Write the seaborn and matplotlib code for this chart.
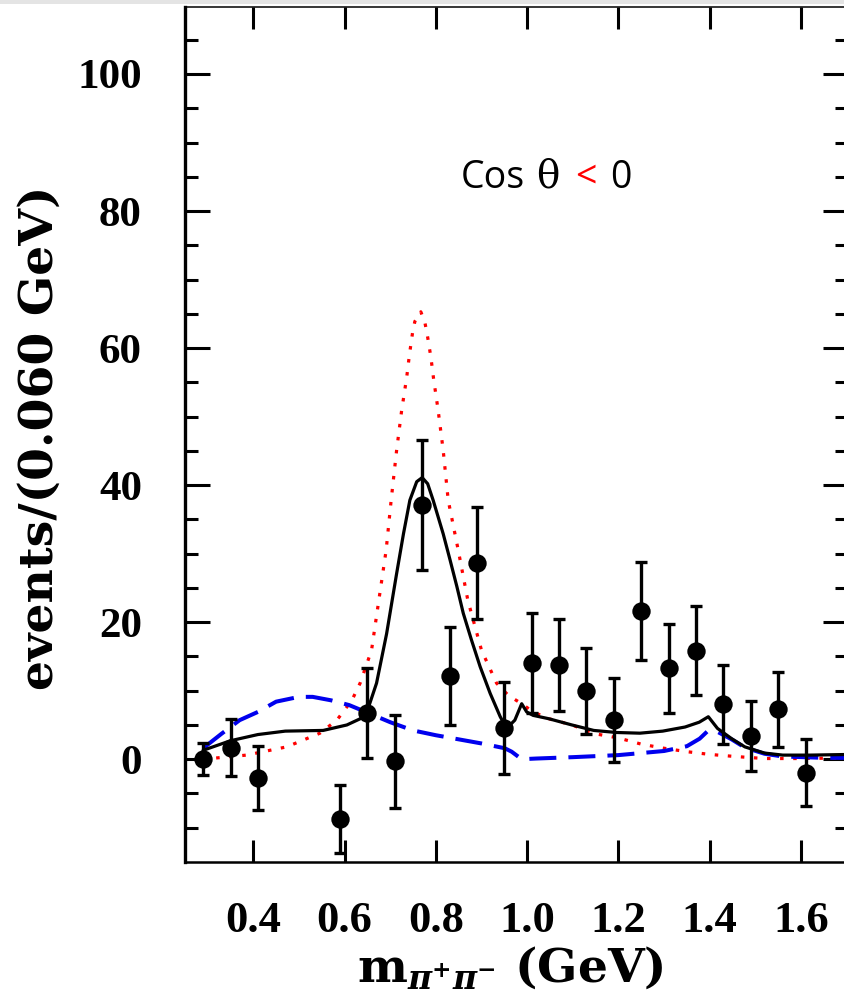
import numpy as np
import pandas as pd
import matplotlib
matplotlib.use("Agg")
import matplotlib.pyplot as plt
import seaborn as sns
from matplotlib.patches import Rectangle

# ---------------- data ----------------
x_pts = [0.29, 0.35, 0.41, 0.59, 0.65, 0.71, 0.77, 0.83, 0.89, 0.95, 1.01,
         1.07, 1.13, 1.19, 1.25, 1.31, 1.37, 1.43, 1.49, 1.55, 1.61]
y_pts = [0.0, 1.7, -2.7, -8.7, 6.8, -0.3, 37.1, 12.1, 28.6, 4.5, 14.0,
         13.7, 10.0, 5.7, 21.6, 13.3, 15.8, 8.0, 3.4, 7.3, -2.0]
y_err = [2.35, 4.15, 4.65, 4.95, 6.55, 6.75, 9.5, 7.15, 8.15, 6.7, 7.3,
         6.7, 6.3, 6.1, 7.15, 6.5, 6.5, 5.75, 5.15, 5.5, 4.9]

# total fit (black solid)
x_tot = [0.29, 0.35, 0.41, 0.47, 0.553, 0.605, 0.634, 0.648, 0.670, 0.692,
         0.714, 0.729, 0.743, 0.758, 0.770, 0.782, 0.794, 0.816, 0.831, 0.846,
         0.860, 0.878, 0.897, 0.919, 0.941, 0.955, 0.973, 0.988, 0.999, 1.013,
         1.048, 1.098, 1.146, 1.196, 1.247, 1.297, 1.346, 1.377, 1.397, 1.417,
         1.448, 1.477, 1.52, 1.56, 1.62, 1.71]
y_tot = [1.3, 2.7, 3.6, 4.1, 4.2, 5.0, 5.9, 6.7, 11.1, 18.3,
         27.1, 32.9, 37.8, 40.5, 41.1, 40.2, 37.8, 32.9, 29.1, 25.2,
         21.3, 17.4, 13.5, 9.6, 6.2, 4.5, 5.7, 8.1, 6.9, 6.4,
         5.9, 5.0, 4.2, 3.9, 3.8, 4.1, 4.7, 5.4, 6.2, 4.5,
         3.0, 1.8, 0.9, 0.6, 0.6, 0.7]

# red dotted component
x_red = [0.29, 0.385, 0.473, 0.546, 0.583, 0.616, 0.634, 0.659, 0.675, 0.691,
         0.702, 0.714, 0.725, 0.736, 0.742, 0.749, 0.754, 0.767, 0.776, 0.781,
         0.789, 0.795, 0.805, 0.816, 0.827, 0.849, 0.870, 0.900, 0.933, 0.959,
         0.988, 1.013, 1.048, 1.098, 1.15, 1.20, 1.25, 1.30, 1.35, 1.40, 1.455,
         1.52, 1.60, 1.71]
y_red = [0.0, 0.6, 1.8, 3.8, 5.7, 8.6, 11.1, 15.9, 23.2, 30.5,
         37.8, 45.1, 50.9, 55.7, 59.0, 62.3, 63.9, 65.3, 63.7, 62.0,
         58.7, 55.5, 50.9, 45.1, 37.8, 30.5, 23.2, 15.9, 11.1, 9.3,
         8.1, 6.9, 5.9, 5.0, 3.7, 3.1, 2.2, 1.6, 1.1, 0.7, 0.4,
         0.1, 0.1, 0.2]

# blue dashed component
x_blu = [0.29, 0.33, 0.37, 0.41, 0.45, 0.50, 0.53, 0.57, 0.61, 0.65, 0.70,
         0.75, 0.80, 0.85, 0.90, 0.951, 0.966, 0.988, 1.02, 1.10, 1.20, 1.30,
         1.35, 1.378, 1.397, 1.417, 1.448, 1.477, 1.52, 1.56, 1.65, 1.71]
y_blu = [1.6, 3.7, 5.7, 6.9, 8.4, 9.1, 9.1, 8.6, 7.9, 6.8, 5.4,
         4.2, 3.5, 2.9, 2.3, 1.6, 1.1, 0.0, 0.1, 0.3, 0.6, 1.2,
         1.9, 3.0, 4.2, 4.0, 2.9, 1.7, 0.8, 0.4, 0.2, 0.2]

x_ticks = [0.4, 0.6, 0.8, 1.0, 1.2, 1.4, 1.6]
y_ticks = [0, 20, 40, 60, 80, 100]

# ---------------- figure ----------------
sns.set_theme(style="ticks")
plt.rcParams["mathtext.fontset"] = "dejavuserif"

W, H = 844, 999
fig = plt.figure(figsize=(W / 100, H / 100), dpi=100)
fig.patch.set_facecolor("white")

L, R, B, T = 185, 848, 862, 6.5
ax = fig.add_axes([L / W, (H - B) / H, (R - L) / W, (B - T) / H])
ax.set_facecolor("white")

pts = pd.DataFrame({"m": x_pts, "n": y_pts, "e": y_err})
tot = pd.DataFrame({"m": x_tot, "n": y_tot})
red = pd.DataFrame({"m": x_red, "n": y_red})
blu = pd.DataFrame({"m": x_blu, "n": y_blu})

sns.lineplot(data=red, x="m", y="n", ax=ax, color="#ff0000", lw=2.3,
             linestyle=(0, (1.1, 3.0)), sort=False, estimator=None, zorder=2)
sns.lineplot(data=blu, x="m", y="n", ax=ax, color="#0000ee", lw=2.9,
             linestyle=(0, (6.7, 3.0)), sort=False, estimator=None, zorder=3)
sns.lineplot(data=tot, x="m", y="n", ax=ax, color="black", lw=2.3,
             sort=False, estimator=None, zorder=4)

ax.errorbar(pts["m"], pts["n"], yerr=pts["e"], fmt="none", ecolor="black",
            elinewidth=2.4, capsize=4.3, capthick=2.4, zorder=5)
sns.scatterplot(data=pts, x="m", y="n", ax=ax, color="black", s=175,
                edgecolor="black", linewidth=0, zorder=6)

ax.set_xlim(0.2503, 1.703)
ax.set_ylim(-15, 109.85)

ax.set_xticks(x_ticks)
ax.set_xticklabels([f"{v:.1f}" for v in x_ticks])
ax.set_yticks(y_ticks)
ax.set_yticklabels([str(v) for v in y_ticks])
ax.set_yticks(np.arange(-10, 110, 5), minor=True)
ax.set_xticks([], minor=True)

ax.tick_params(axis="x", which="major", direction="in", top=True, bottom=True,
               length=15.8, width=2.2, pad=28, labelsize=32, colors="black")
ax.tick_params(axis="y", which="major", direction="in", left=True, right=True,
               length=18, width=2.2, pad=31, labelsize=31, colors="black")
ax.tick_params(axis="y", which="minor", direction="in", left=True, right=True,
               length=9.4, width=2.2, colors="black")
for lab in ax.get_xticklabels() + ax.get_yticklabels():
    lab.set_fontfamily("Liberation Serif")
    lab.set_fontweight("bold")

ax.spines["left"].set_linewidth(2.4)
ax.spines["bottom"].set_linewidth(1.8)
ax.spines["top"].set_linewidth(1.1)
ax.spines["right"].set_linewidth(2.0)
for s in ax.spines.values():
    s.set_color("black")

ax.set_xlabel(r"m$_{\boldsymbol{\pi}^{\mathbf{+}}\boldsymbol{\pi}^{\mathbf{-}}}$ (GeV)",
              fontsize=34, fontfamily="DejaVu Serif", fontweight="bold",
              color="black")
ax.xaxis.set_label_coords((510 - L) / (R - L), -(968 - B) / (B - T))
ax.xaxis.label.set_va("center")

ax.set_ylabel("events/(0.060 GeV)", fontsize=34, fontfamily="DejaVu Serif",
              fontweight="bold", color="black")
ax.yaxis.set_label_coords((40 - L) / (R - L), (B - 438) / (B - T))
ax.yaxis.label.set_va("center")

# annotation "Cos θ < 0"
base = (H - 188) / H
fig.text(461 / W, base, "Cos", fontsize=27, fontfamily="Open Sans",
         color="black", ha="left", va="baseline")
fig.text(536 / W, base, "\u03b8", fontsize=28, fontfamily="DejaVu Serif",
         color="black", ha="left", va="baseline")
fig.text(575 / W, base, "<", fontsize=27, fontfamily="Open Sans",
         color="#ff0000", ha="left", va="baseline")
fig.text(610 / W, base, "0", fontsize=27, fontfamily="Open Sans",
         color="black", ha="left", va="baseline")

# faint grey band at the very top edge
fig.add_artist(Rectangle((0, (H - 3.5) / H), 1, 3.5 / H, transform=fig.transFigure,
                         facecolor="#e4e4e4", edgecolor="none", zorder=10))

fig.savefig("out.png", dpi=100, facecolor="white")
